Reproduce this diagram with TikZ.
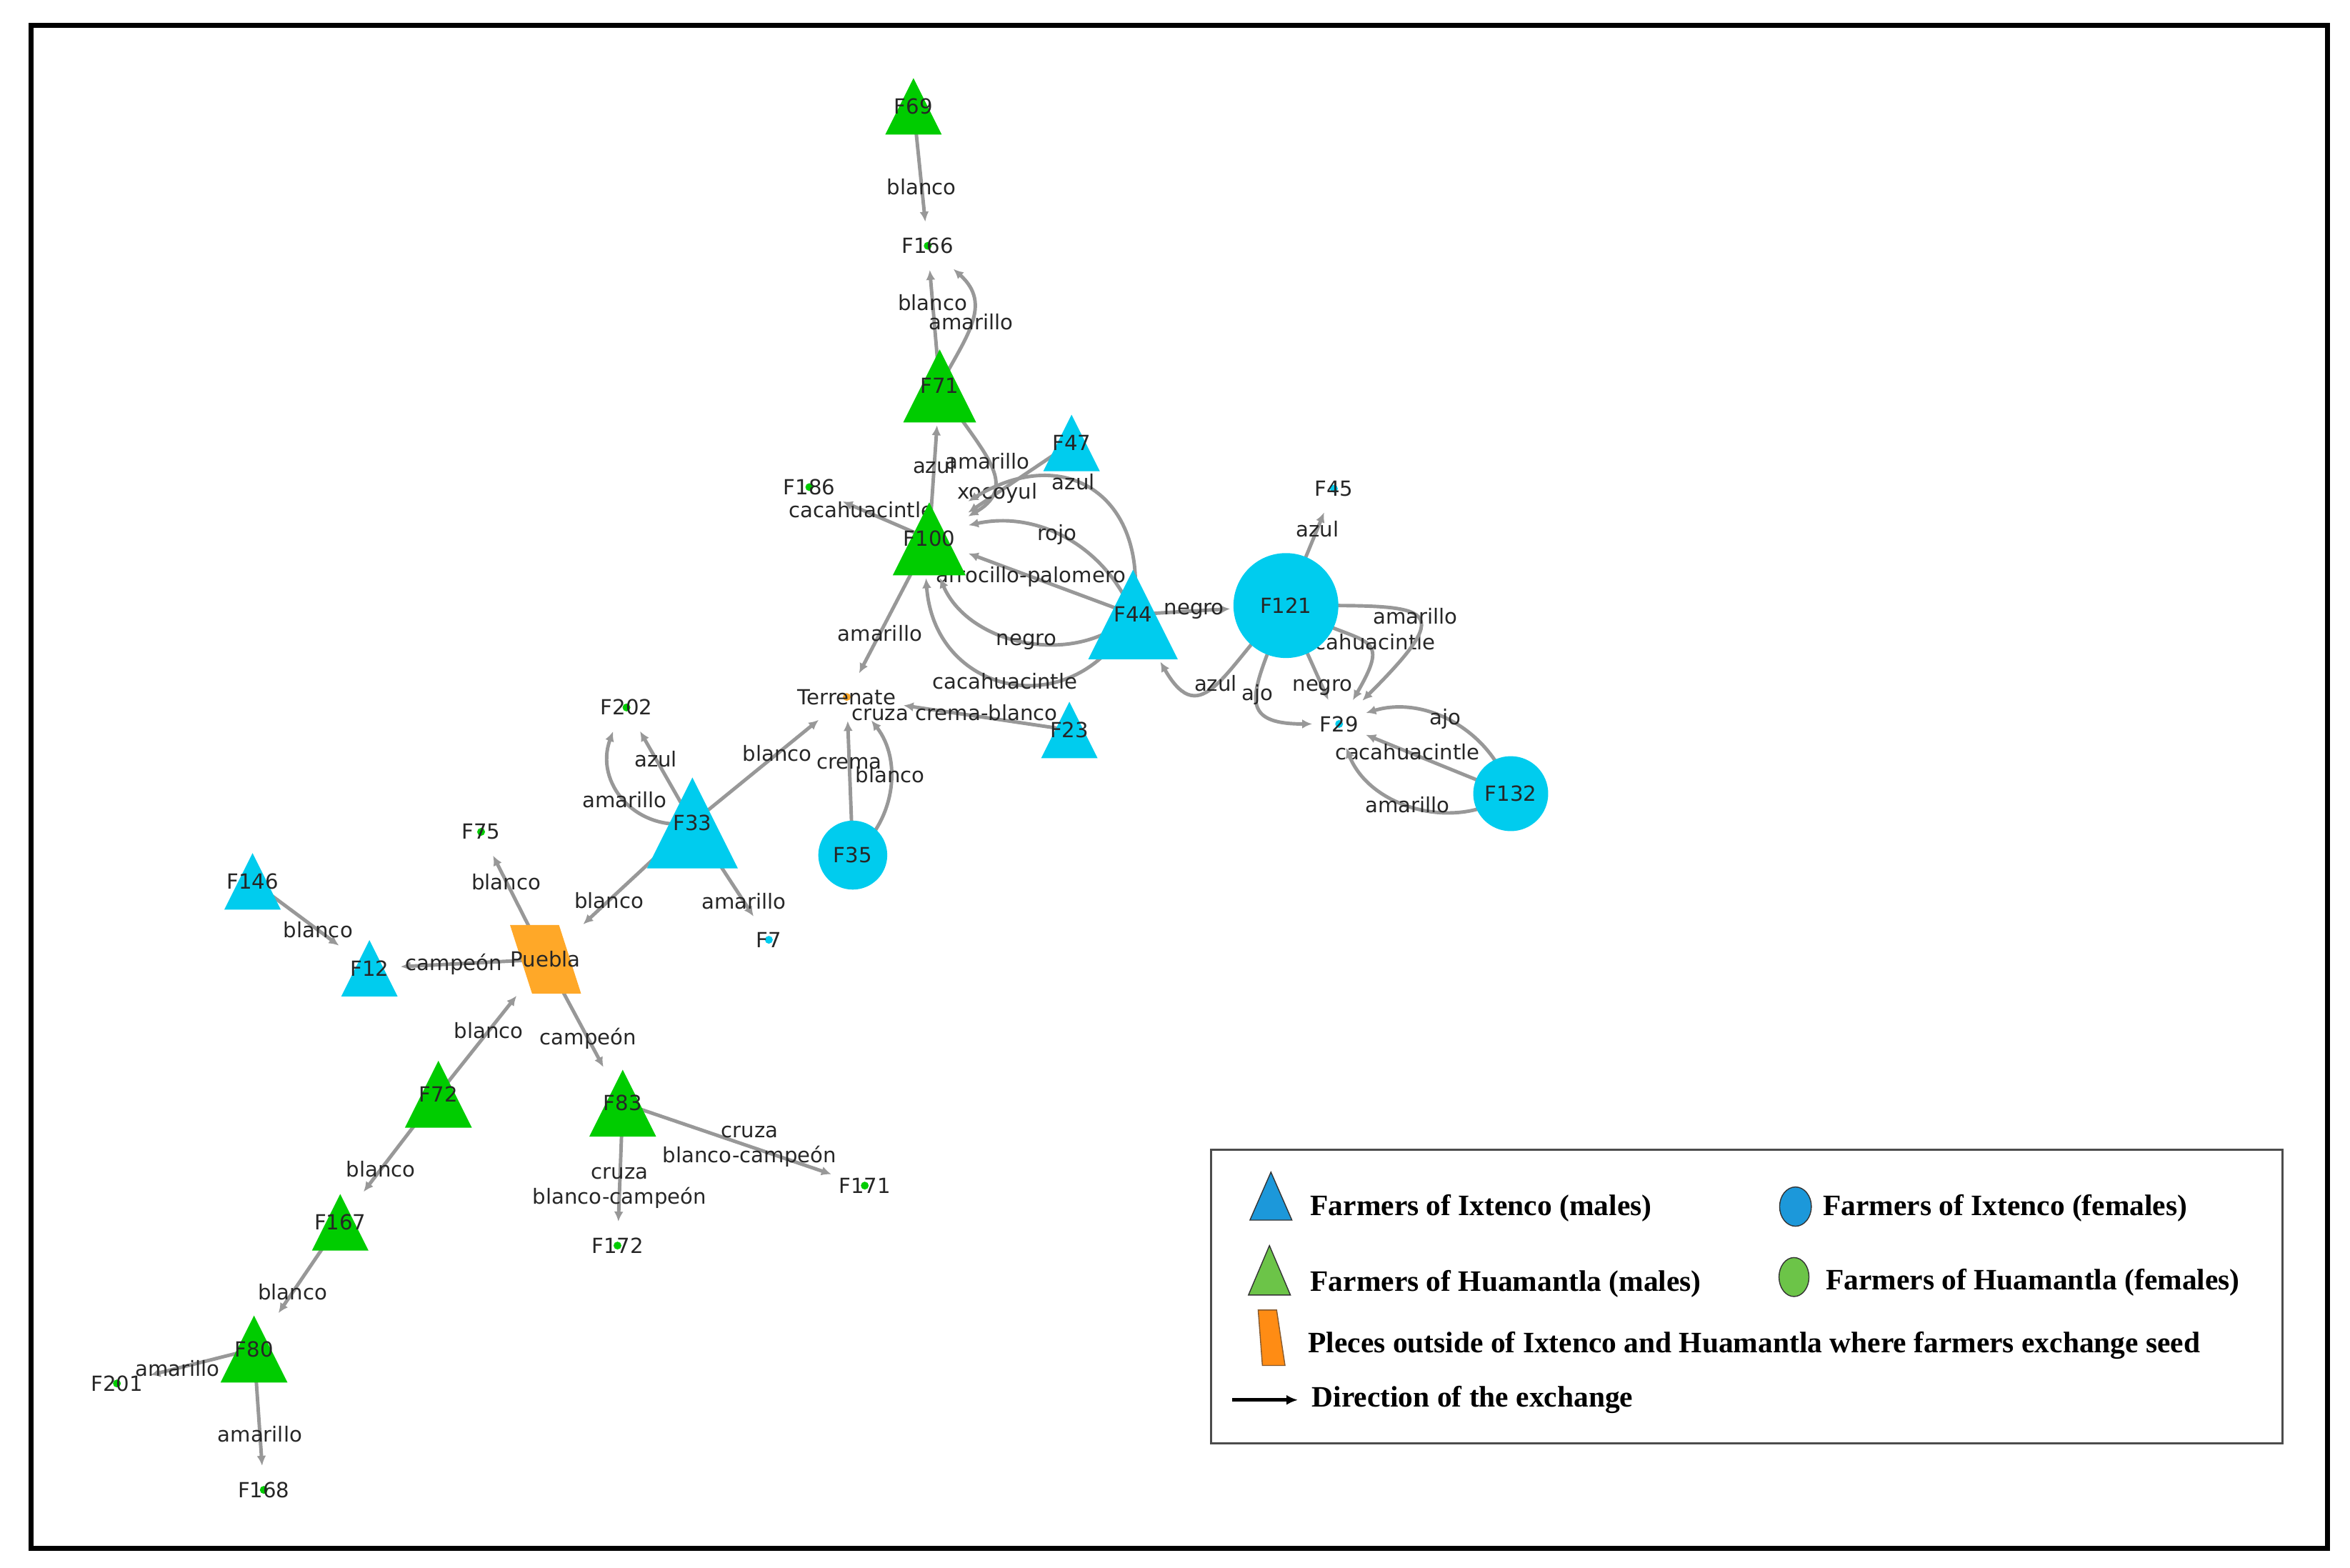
\documentclass[tikz,border=0pt]{standalone}
\usepackage{fontspec}
\setmainfont{DejaVu Sans}
\newfontfamily\legendfont{Liberation Serif}
\usetikzlibrary{arrows.meta,calc}
\definecolor{ixtenco}{RGB}{0,204,238}
\definecolor{huamantla}{RGB}{0,204,0}
\definecolor{outside}{RGB}{255,168,40}
\definecolor{linkgray}{RGB}{152,152,152}
\definecolor{legblue}{RGB}{28,152,218}
\definecolor{leggreen}{RGB}{108,196,72}
\definecolor{legorange}{RGB}{255,140,20}
\newdimen\pxu
\pxu=0.20982mm
\pgfdeclarelayer{front}
\pgfdeclarelayer{top}
\pgfsetlayers{main,front,top}

\begin{document}
\begin{tikzpicture}[x=0.20982mm, y=-0.20982mm,
  farmer label/.style={font=\fontsize{8.3}{10}\selectfont, text=black!85},
  male style/.style={farmer label, rectangle, inner sep=0pt, minimum width=#1*\pxu, minimum height=#1*\pxu},
  female style/.style={farmer label, circle, inner sep=0pt, fill=ixtenco, minimum size=#1*\pxu},
  small style/.style={farmer label, rectangle, inner xsep=0.6mm, inner ysep=1.8mm},
  place style/.style={farmer label, rectangle, inner sep=0pt, minimum width=45*\pxu, minimum height=45*\pxu},
  seed/.style={draw=linkgray, line width=1.4pt, -{Latex[length=1.4mm,width=1.3mm]}, shorten >=0.4mm},
  seed label/.style={font=\fontsize{8.3}{10}\selectfont, text=black!85, inner sep=0.5pt, align=center},
  legend text/.style={font=\legendfont\bfseries\fontsize{11.8}{14}\selectfont, anchor=west, inner sep=0pt}]
\useasboundingbox (0,0) rectangle (1568,1046.1);

% farmers and places
\begin{pgfonlayer}{top}
\node[male style=37] (F69) at (609.5,71) {F69};
\node[small style] (F166) at (619,164) {F166};
\node[male style=48] (F71) at (627,257.5) {F71};
\node[male style=37] (F47) at (715,295.5) {F47};
\node[small style] (F186) at (540,325) {F186};
\node[male style=48] (F100) at (620,359.5) {F100};
\node[male style=59] (F44) at (756,410) {F44};
\node[female style=70] (F121) at (858,404) {F121};
\node[small style] (F45) at (890,326) {F45};
\node[small style] (Terrenate) at (565,465) {Terrenate};
\node[male style=37] (F23) at (713.5,487) {F23};
\node[small style] (F29) at (893.5,483) {F29};
\node[female style=50] (F132) at (1008,529.5) {F132};
\node[small style] (F202) at (418,472) {F202};
\node[male style=60] (F33) at (462,549) {F33};
\node[female style=46] (F35) at (569,570.5) {F35};
\node[small style] (F75) at (321,555) {F75};
\node[small style] (F7) at (513,627) {F7};
\node[male style=37] (F146) at (168.5,588) {F146};
\node[male style=37] (F12) at (246.5,646) {F12};
\node[place style] (Puebla) at (364,640) {Puebla};
\node[male style=44] (F72) at (292.5,730) {F72};
\node[male style=44] (F83) at (415.5,736) {F83};
\node[small style] (F171) at (577,791) {F171};
\node[small style] (F172) at (412,831) {F172};
\node[male style=37] (F167) at (227,815.5) {F167};
\node[male style=44] (F80) at (169.5,900) {F80};
\node[small style] (F201) at (78,923) {F201};
\node[small style] (F168) at (176,994) {F168};
\end{pgfonlayer}

% shapes under the labels
\begin{pgfonlayer}{front}
\foreach \n in {F69,F71,F100,F72,F83,F167,F80}
  \fill[huamantla] (\n.north) -- (\n.south east) -- (\n.south west) -- cycle;
\foreach \n in {F47,F44,F23,F33,F146,F12}
  \fill[ixtenco] (\n.north) -- (\n.south east) -- (\n.south west) -- cycle;
\fill[outside] (Puebla.north west) -- ($(Puebla.north west)!.69!(Puebla.north east)$) -- (Puebla.south east) -- ($(Puebla.south east)!.69!(Puebla.south west)$) -- cycle;
\foreach \n in {F166,F186,F202,F75,F171,F172,F201,F168}
  \fill[huamantla] (\n) circle[radius=0.55mm];
\foreach \n in {F45,F29,F7}
  \fill[ixtenco] (\n) circle[radius=0.55mm];
\fill[outside] (Terrenate) circle[radius=0.55mm];
\end{pgfonlayer}

% exchanges
\draw[seed] (F69.center) -- node[seed label, pos=.68] {blanco} (F166);
\draw[seed] (F71.center) -- node[seed label, pos=.7] {blanco} (F166);
\draw[seed] (F71.center) to[out=62, in=-42, looseness=1.2] node[seed label] {amarillo} (F166);
\draw[seed] (F100.center) -- node[seed label, pos=.63] {azul} (F71);
\draw[seed] (F71.center) to[out=-60, in=30, looseness=1.3] node[seed label] {amarillo} (F100);
\draw[seed] (F47.center) -- node[seed label, pos=.7] {xocoyul} (F100);
\draw[seed] (F44.center) to[bend right=65, looseness=1.5] node[seed label, pos=.6] {azul} (F100);
\draw[seed] (F44.center) to[bend right=40] node[seed label, pos=.55] {rojo} (F100);
\draw[seed] (F44.center) -- node[seed label, pos=.61] {arrocillo-palomero} (F100);
\draw[seed] (F44.center) to[bend left=55] node[seed label] {negro} (F100);
\draw[seed] (F44.center) to[bend left=75, looseness=1.5] node[seed label, pos=.53] {cacahuacintle} (F100);
\draw[seed] (F100.center) -- node[seed label, pos=.76] {cacahuacintle} (F186);
\draw[seed] (F100.center) -- node[seed label, pos=.69] {amarillo} (Terrenate);
\draw[seed] (F23.center) -- node[seed label, pos=.68] {cruza crema-blanco} (Terrenate);
\draw[seed] (F35.center) -- node[seed label, pos=.67] {crema} (Terrenate);
\draw[seed] (F35.center) to[bend right=45] node[seed label, pos=.6] {blanco} (Terrenate);
\draw[seed] (F33.center) -- node[seed label, pos=.66] {blanco} (Terrenate);
\draw[seed] (F33.center) -- node[seed label, pos=.68] {azul} (F202);
\draw[seed] (F33.center) to[bend left=60, looseness=1.2] node[seed label] {amarillo} (F202);
\draw[seed] (F33.center) -- node[seed label, pos=.75] {blanco} (Puebla);
\draw[seed] (F33.center) -- node[seed label, pos=.82] {amarillo} (F7);
\draw[seed] (Puebla.center) -- node[seed label, pos=.73] {blanco} (F75);
\draw[seed] (F146.center) -- node[seed label, pos=.74] {blanco} (F12);
\draw[seed] (Puebla.center) -- node[seed label, pos=.62] {campeón} (F12);
\draw[seed] (F72.center) -- node[seed label, pos=.63] {blanco} (Puebla);
\draw[seed] (Puebla.center) -- node[seed label, pos=.72] {campeón} (F83);
\draw[seed] (F72.center) -- node[seed label, pos=.75] {blanco} (F167);
\draw[seed] (F167.center) -- node[seed label, pos=.75] {blanco} (F80);
\draw[seed] (F80.center) -- node[seed label, pos=.72] {amarillo} (F201);
\draw[seed] (F80.center) -- node[seed label, pos=.71] {amarillo} (F168);
\draw[seed] (F83.center) -- node[seed label, pos=.7] {cruza\\blanco-campeón} (F172);
\draw[seed] (F83.center) -- node[seed label, pos=.6] {cruza\\blanco-campeón} (F171);
\draw[seed] (F121.center) -- node[seed label, pos=.8] {azul} (F45);
\draw[seed] (F44.center) -- node[seed label, pos=.61] {negro} (F121);
\draw[seed] (F121.center) to[out=225, in=-60, looseness=1.6] node[seed label] {azul} (F44);
\draw[seed] (F121.center) -- node[seed label, pos=.84] {negro} (F29);
\draw[seed] (F121.center) to[out=250, in=180, looseness=1.8] node[seed label] {ajo} (F29);
\draw[seed] (F121.center) to[out=-30, in=60, looseness=1.9] node[seed label] {cacahuacintle} (F29);
\draw[seed] (F121.center) to[out=0, in=45, looseness=3] node[seed label] {amarillo} (F29);
\draw[seed] (F132.center) to[bend right=45] node[seed label, pos=.55] {ajo} (F29);
\draw[seed] (F132.center) -- node[seed label, pos=.7] {cacahuacintle} (F29);
\draw[seed] (F132.center) to[bend left=52] node[seed label, pos=.55] {amarillo} (F29);

% frame and legend
\draw[line width=0.67mm] (20.65,17) rectangle (1553,1033);
\draw[black!70, line width=0.35mm] (808,767) rectangle (1523,963);
\filldraw[fill=legblue, draw=black!80, line width=0.4pt] (848,782) -- (862,814) -- (834,814) -- cycle;
\node[legend text] (lmaleI) at (874,806) {Farmers of Ixtenco (males)};
\filldraw[fill=legblue, draw=black!80, line width=0.4pt] (1198,805) ellipse [x radius=10.6, y radius=13.1];
\node[legend text] (lfemaleI) at (1216,806) {Farmers of Ixtenco (females)};
\filldraw[fill=leggreen, draw=black!80, line width=0.4pt] (847,831) -- (861,864) -- (833,864) -- cycle;
\node[legend text] (lmaleH) at (874,856.5) {Farmers of Huamantla (males)};
\filldraw[fill=leggreen, draw=black!80, line width=0.4pt] (1197,852) ellipse [x radius=10, y radius=13];
\node[legend text] (lfemaleH) at (1218,855.5) {Farmers of Huamantla (females)};
\filldraw[fill=legorange, draw=brown!70!black, line width=0.4pt] (839.5,874) -- (851.8,874) -- (857.4,911) -- (842.3,911) -- cycle;
\node[legend text] (lplace) at (872.5,897.5) {Pleces outside of Ixtenco and Huamantla where farmers exchange seed};
\coordinate (ldirA) at (822,934);
\coordinate (ldirB) at (866,934);
\draw[line width=0.5mm, -{Latex[length=1.6mm,width=1.4mm]}] (ldirA) -- (ldirB);
\node[legend text] (ldir) at (875,934) {Direction of the exchange};
\end{tikzpicture}
\end{document}
